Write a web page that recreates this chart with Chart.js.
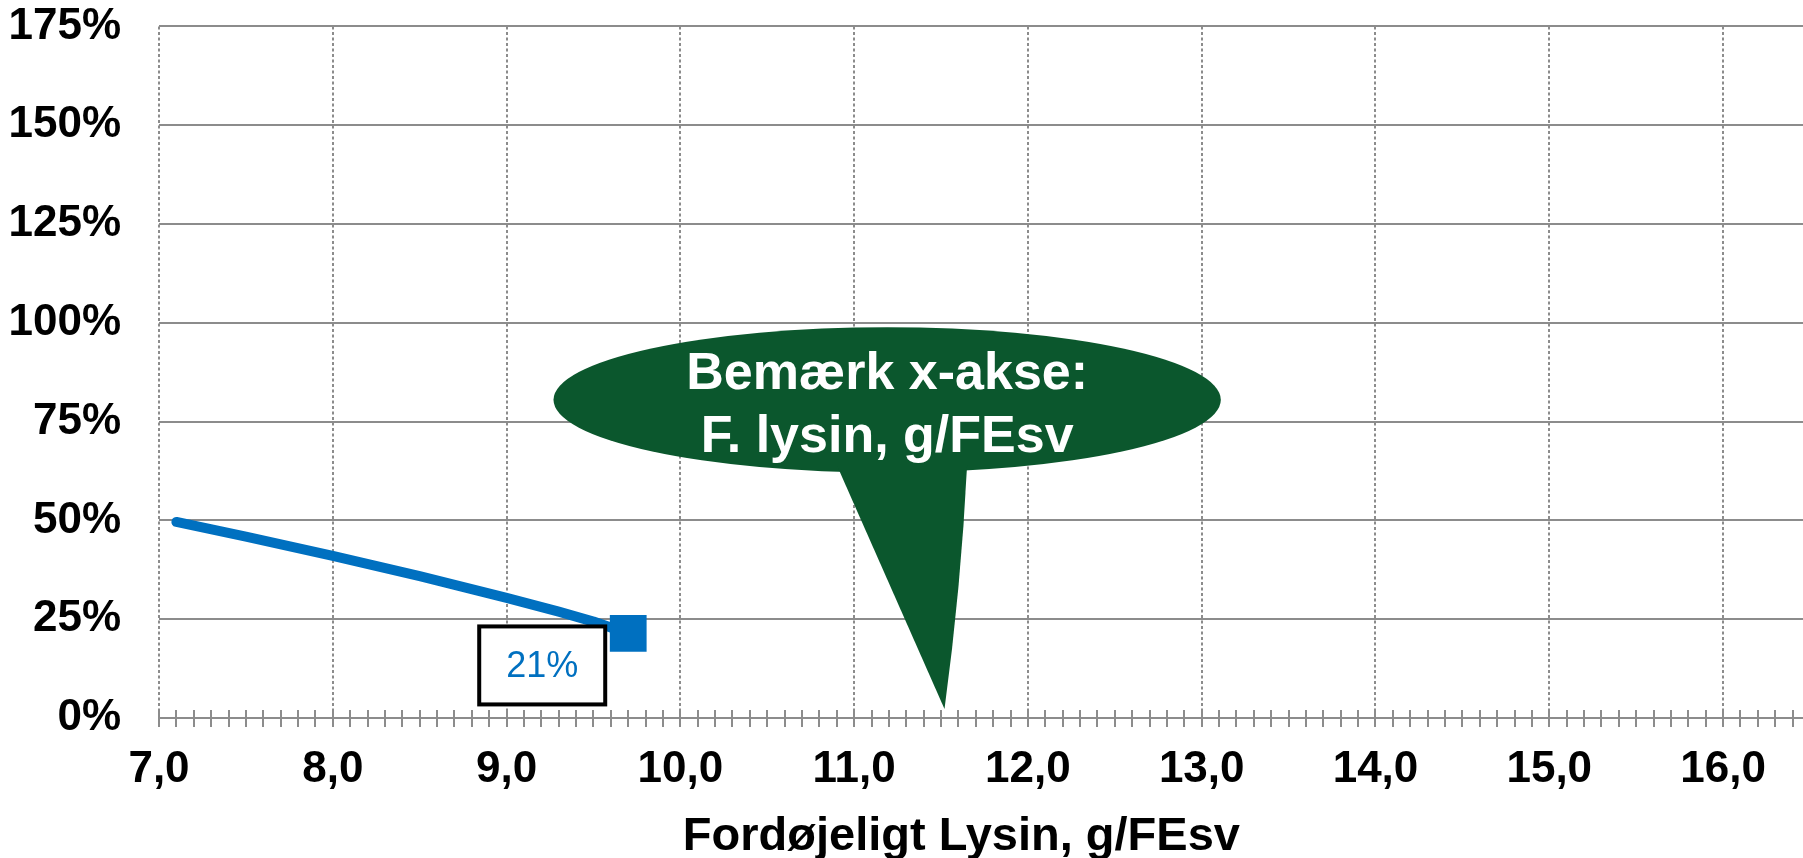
<!DOCTYPE html>
<html>
<head>
<meta charset="utf-8">
<script src="https://cdn.jsdelivr.net/npm/chart.js@4"></script>
<style>
  body { margin: 0; background: #fff; }
  #wrap { width: 1803px; height: 858px; position: relative; }
</style>
</head>
<body>
<div id="wrap"><canvas id="canvas"></canvas></div>
<script>
// data
var lysin = [7.1, 7.5, 8.0, 8.5, 9.0, 9.3, 9.5, 9.7];
var andel = [49.6, 45.9, 41.0, 35.9, 30.4, 26.9, 24.4, 21.4];
var xTicks = [7, 8, 9, 10, 11, 12, 13, 14, 15, 16];
var yTicks = [0, 25, 50, 75, 100, 125, 150, 175];
var xTitle = 'Fordøjeligt Lysin, g/FEsv';
var noteLines = ['Bemærk x-akse:', 'F. lysin, g/FEsv'];

var blue = '#0070C0';
var gridGrey = '#8c8c8c';
var green = '#0B572D';
var fontFam = "'Liberation Sans', Arial, Helvetica, sans-serif";

Chart.defaults.font.family = fontFam;
Chart.defaults.color = '#000';

var points = lysin.map(function(v, i){
    return {x: v, y: andel[i]};
});
var radii = lysin.map(function(v, i){
    return i === lysin.length - 1 ? 26 : 0;
});

// small ticks every 0.1 across the x axis line
var minorTicks = {
    id: 'minorTicks',
    beforeDatasetsDraw: function(chart){
        var ctx = chart.ctx;
        var xs = chart.scales.x, ys = chart.scales.y;
        var y0 = ys.getPixelForValue(0);
        ctx.save();
        ctx.strokeStyle = gridGrey;
        ctx.lineWidth = 2;
        for (var i = 0; i * 0.1 + xs.min <= xs.max + 1e-9; i++) {
            var px = Math.round(xs.getPixelForValue(xs.min + i * 0.1));
            ctx.beginPath();
            ctx.moveTo(px, y0 - 8);
            ctx.lineTo(px, y0 + 9);
            ctx.stroke();
        }
        ctx.restore();
    }
};

// boxed label at the last point
var lastLabel = {
    id: 'lastLabel',
    afterDatasetsDraw: function(chart){
        var ctx = chart.ctx;
        var meta = chart.getDatasetMeta(0);
        var el = meta.data[meta.data.length - 1];
        var cx = el.x - 86, cy = el.y + 32;
        var w = 126, h = 78;
        ctx.save();
        ctx.fillStyle = '#fff';
        ctx.fillRect(cx - w / 2, cy - h / 2, w, h);
        ctx.strokeStyle = '#000';
        ctx.lineWidth = 4;
        ctx.strokeRect(cx - w / 2, cy - h / 2, w, h);
        ctx.fillStyle = blue;
        ctx.font = '36px ' + fontFam;
        ctx.textAlign = 'center';
        ctx.textBaseline = 'middle';
        ctx.fillText(Math.round(andel[andel.length - 1]) + '%', cx, cy + 2);
        ctx.restore();
    }
};

// green speech bubble
var callout = {
    id: 'callout',
    afterDatasetsDraw: function(chart){
        var ctx = chart.ctx;
        var xs = chart.scales.x, ys = chart.scales.y;
        var cx = xs.getPixelForValue(11.19), cy = ys.getPixelForValue(80.5);
        var rx = xs.getPixelForValue(11.19 + 1.92) - cx;
        var ry = ys.getPixelForValue(80.5 - 18.4) - cy;
        var bl = xs.getPixelForValue(10.90), br = xs.getPixelForValue(11.65);
        var by = ys.getPixelForValue(64);
        var tx = xs.getPixelForValue(11.52), ty = ys.getPixelForValue(2.3);
        ctx.save();
        ctx.fillStyle = green;
        ctx.beginPath();
        ctx.ellipse(cx, cy, rx, ry, 0, 0, Math.PI * 2);
        ctx.fill();
        ctx.beginPath();
        ctx.moveTo(bl, by);
        ctx.lineTo(br, by);
        ctx.quadraticCurveTo(br - 6, (by + ty) / 2, tx, ty);
        ctx.closePath();
        ctx.fill();
        ctx.fillStyle = '#fff';
        ctx.font = 'bold 52px ' + fontFam;
        ctx.textAlign = 'center';
        ctx.textBaseline = 'alphabetic';
        ctx.fillText(noteLines[0], cx, cy - 11);
        ctx.fillText(noteLines[1], cx, cy + 52);
        ctx.restore();
    }
};

var ctx = document.getElementById('canvas').getContext('2d');
var myChart = new Chart(ctx, {
    type: 'line',
    data: {
        datasets: [{
            label: 'Andel',
            data: points,
            borderColor: blue,
            backgroundColor: blue,
            borderWidth: 10,
            borderCapStyle: 'round',
            borderJoinStyle: 'round',
            pointStyle: 'rect',
            pointRadius: radii,
            pointBorderWidth: 0,
            pointBackgroundColor: blue,
            tension: 0,
            fill: false
        }]
    },
    options: {
        responsive: true,
        maintainAspectRatio: false,
        animation: false,
        layout: {
            autoPadding: false,
            padding: { top: 25, right: 0, left: 0, bottom: 0 }
        },
        plugins: {
            legend: { display: false },
            tooltip: { enabled: false }
        },
        scales: {
            x: {
                type: 'linear',
                min: 7,
                max: 16.46,
                afterBuildTicks: function(scale){
                    scale.ticks = xTicks.map(function(v){ return {value: v}; });
                },
                afterFit: function(scale){
                    scale.height = 140;
                    scale.paddingRight = 0;
                    scale.paddingLeft = 0;
                },
                grid: {
                    color: gridGrey,
                    lineWidth: 2,
                    drawTicks: true,
                    tickLength: 25,
                    tickColor: 'rgba(0,0,0,0)'
                },
                border: { display: false, dash: [3, 2.5] },
                ticks: {
                    padding: 0,
                    maxRotation: 0,
                    font: { size: 44, weight: 'bold' },
                    callback: function(v){ return v.toFixed(1).replace('.', ','); }
                },
                title: {
                    display: true,
                    // trailing spaces nudge it a bit left, like the original
                    text: xTitle + '\u00a0\u00a0\u00a0',
                    padding: 0,
                    font: { size: 47, weight: 'bold', lineHeight: 0.9 }
                }
            },
            y: {
                min: 0,
                max: 175,
                afterBuildTicks: function(scale){
                    scale.ticks = yTicks.map(function(v){ return {value: v}; });
                },
                afterFit: function(scale){ scale.width = 159; },
                grid: {
                    color: gridGrey,
                    lineWidth: 2,
                    drawTicks: true,
                    tickLength: 38,
                    tickColor: 'rgba(0,0,0,0)'
                },
                border: { display: false },
                ticks: {
                    padding: 0,
                    font: { size: 44, weight: 'bold' },
                    callback: function(v){ return v + '%'; }
                }
            }
        }
    },
    plugins: [minorTicks, lastLabel, callout]
});
</script>
</body>
</html>
